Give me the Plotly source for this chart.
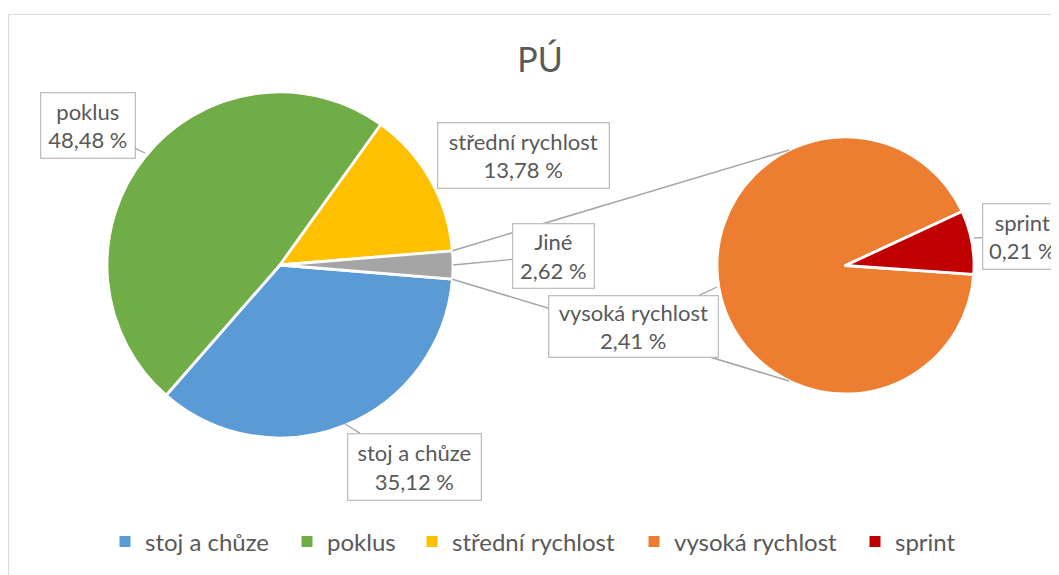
import math
import plotly.graph_objects as go

# ---------------- data ----------------
main_labels = ["stoj a chůze", "poklus", "střední rychlost", "Jiné"]
main_values = [35.12, 48.48, 13.78, 2.62]
main_colors = ["#5B9BD5", "#70AD47", "#FFC000", "#A5A5A5"]

sub_labels = ["vysoká rychlost", "sprint"]
sub_values = [2.41, 0.21]
sub_colors = ["#ED7D31", "#C00000"]

legend_labels = ["stoj a chůze", "poklus", "střední rychlost", "vysoká rychlost", "sprint"]
legend_colors = ["#5B9BD5", "#70AD47", "#FFC000", "#ED7D31", "#C00000"]

title_text = "PÚ"

# ---------------- layout constants (pixels in the screenshot) ----------------
W, H = 1059, 575
OFF = 8.0  # page body margin
MAIN_C, MAIN_R = (280.0, 265.0), 173.0
SUB_C, SUB_R = (845.5, 265.5), 128.5
SUB_ROTATION = 94.0
TEXT = "#595959"
FONT = "Lato"


def px2x(px):
    return (px - OFF) / W


def px2y(py):
    return 1 - (py - OFF) / H


def dom(c, r):
    return dict(x=[px2x(c[0] - r), px2x(c[0] + r)],
                y=[px2y(c[1] + r), px2y(c[1] - r)])


def pt(c, r, ang):
    """angle in degrees clockwise from 12 o'clock -> paper coords"""
    a = math.radians(ang)
    return px2x(c[0] + r * math.sin(a)), px2y(c[1] - r * math.cos(a))


total_main = sum(main_values)
other_span = 360.0 * main_values[-1] / total_main
main_rotation = 90.0 + other_span / 2.0

fig = go.Figure()

fig.add_trace(go.Pie(
    labels=main_labels, values=main_values, sort=False, direction="clockwise",
    rotation=main_rotation, domain=dom(MAIN_C, MAIN_R),
    marker=dict(colors=main_colors, line=dict(color="white", width=2.8)),
    textinfo="none", hoverinfo="label+percent", showlegend=False,
))
fig.add_trace(go.Pie(
    labels=sub_labels, values=sub_values, sort=False, direction="clockwise",
    rotation=SUB_ROTATION, domain=dom(SUB_C, SUB_R),
    marker=dict(colors=sub_colors, line=dict(color="white", width=2.8)),
    textinfo="none", hoverinfo="label+value", showlegend=False,
))

# legend entries (squares), each in its own legend so spacing matches
legend_marker_px = [130, 312, 437, 659, 880]
legends = {}
for i, (lab, col) in enumerate(zip(legend_labels, legend_colors)):
    key = "legend" if i == 0 else f"legend{i + 1}"
    fig.add_trace(go.Scatter(
        x=[None], y=[None], mode="markers", name=lab, legend=key,
        marker=dict(symbol="square", size=11, color=col),
    ))
    legends[key] = dict(
        orientation="h", x=px2x(legend_marker_px[i] - 25), xanchor="left",
        y=px2y(542), yanchor="middle",
        font=dict(family=FONT, size=24, color=TEXT), itemwidth=30,
        bgcolor="rgba(0,0,0,0)", borderwidth=0,
    )

# connector lines between the pies
shapes = []
p1 = pt(MAIN_C, MAIN_R, 90.0 - other_span / 2.0)
p2 = pt(MAIN_C, MAIN_R, 90.0 + other_span / 2.0)
q1 = pt(SUB_C, SUB_R, 334.0)
q2 = pt(SUB_C, SUB_R, 206.0)
for a, b in [(p1, q1), (p2, q2)]:
    shapes.append(dict(type="line", xref="paper", yref="paper",
                       x0=a[0], y0=a[1], x1=b[0], y1=b[1],
                       line=dict(color="#A6A6A6", width=1.5)))
# chart border
shapes.append(dict(type="rect", xref="paper", yref="paper",
                   x0=px2x(8.5), y0=-0.05, x1=1.05, y1=px2y(14.5),
                   line=dict(color="#D9D9D9", width=1), fillcolor="rgba(0,0,0,0)"))


def fmt(v):
    return ("%.2f" % v).replace(".", ",") + " %"


all_vals = dict(zip(main_labels, main_values))
all_vals.update(dict(zip(sub_labels, sub_values)))

# label boxes: name -> (box center px, box size px, arrow tip px)
label_pos = {
    "poklus": ((87.5, 125.0), (95, 66), (145.0, 153.0)),
    "střední rychlost": ((523.0, 155.0), (172, 66), (440.0, 170.0)),
    "Jiné": ((553.0, 255.5), (82, 65), (453.0, 265.0)),
    "vysoká rychlost": ((633.0, 326.0), (170, 62), (717.0, 287.0)),
    "sprint": ((1022.0, 236.0), (80, 66), (974.0, 238.0)),
    "stoj a chůze": ((414.5, 466.5), (134, 67), (345.0, 424.0)),
}

annotations = []
for name, (bc, bs, tip) in label_pos.items():
    annotations.append(dict(
        xref="paper", yref="paper",
        x=px2x(tip[0]), y=px2y(tip[1]),
        ax=bc[0] - tip[0], ay=bc[1] - tip[1], axref="pixel", ayref="pixel",
        showarrow=True, arrowhead=0, arrowwidth=1.3, arrowcolor="#A6A6A6",
        text=f"{name}<br>{fmt(all_vals[name])}",
        font=dict(family=FONT, size=22, color=TEXT),
        bgcolor="white", bordercolor="#BFBFBF", borderwidth=1.3, borderpad=2,
        width=bs[0] - 6, height=bs[1] - 6, align="center",
    ))

fig.update_layout(
    width=W, height=H,
    margin=dict(l=0, r=0, t=0, b=0),
    paper_bgcolor="white", plot_bgcolor="white",
    title=dict(text=title_text, x=px2x(540), xanchor="center", y=px2y(60), yanchor="middle",
               font=dict(family=FONT, size=34, color=TEXT)),
    xaxis=dict(visible=False), yaxis=dict(visible=False),
    shapes=shapes, annotations=annotations,
    **legends,
)

fig.write_html("out.html")
